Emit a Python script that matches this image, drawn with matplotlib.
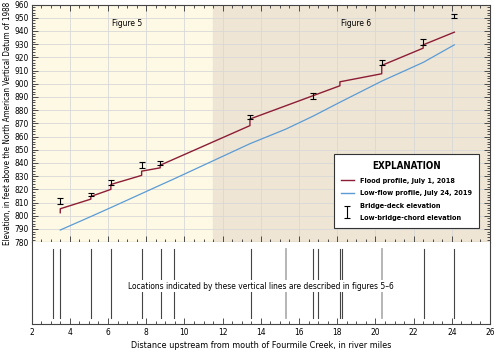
import matplotlib
matplotlib.use("Agg")
import matplotlib.pyplot as plt
from matplotlib.ticker import MultipleLocator
from matplotlib.lines import Line2D

plt.rcParams['font.family'] = ['DejaVu Sans']
plt.rcParams['font.stretch'] = 'condensed'

# flood profile, July 1, 2018 (river mile, elevation)
flood_mile = [3.5, 3.5, 5.1, 5.1, 6.15, 6.15, 7.76, 7.76, 8.73, 8.73, 13.43, 13.43,
              18.14, 18.14, 20.33, 20.33, 22.5, 22.5, 24.13]
flood_elev = [802.3, 805.3, 812.6, 814.6, 820.0, 823.7, 830.6, 833.8, 836.3, 838.3, 868.3, 873.3,
              898.5, 901.5, 907.6, 913.9, 927.0, 929.5, 939.1]

# low-flow profile, July 24, 2019
low_mile = [3.5, 5.1, 6.15, 7.76, 8.73, 9.45, 13.43, 15.3, 16.71, 18.14, 20.33, 22.5, 24.13]
low_elev = [789.2, 799.4, 806.2, 816.8, 823.2, 827.9, 854.6, 865.6, 875.3, 886.0, 902.0, 916.2, 929.5]

# bridges: deck (top) and low chord (bottom)
bridge_mile = [3.5, 5.1, 6.15, 7.76, 8.73, 13.43, 16.71, 20.33, 22.5, 24.13]
bridge_deck = [813.6, 817.4, 826.9, 840.6, 841.6, 876.6, 893.0, 918.2, 933.9, 953.0]
bridge_chord = [808.6, 814.9, 823.2, 836.0, 838.3, 873.6, 888.7, 913.9, 929.5, 950.2]

# location lines in lower panel
loc_mile = [3.13, 3.5, 5.12, 6.17, 7.76, 8.75, 9.45, 13.47, 15.3, 16.74, 17.0, 18.16, 18.25,
            20.34, 22.55, 24.13]
loc_grey = [15.3, 20.34]

fig = plt.figure(figsize=(4.94, 3.53), dpi=100)
ax = fig.add_axes([0.064, 0.314, 0.928, 0.673])
ax2 = fig.add_axes([0.064, 0.082, 0.928, 0.232])

ax.axvspan(2, 11.48, color='#fdf9e5', zorder=0)
ax.axvspan(11.48, 26, color='#efe5d4', zorder=0)
ax.set_xlim(2, 26)
ax.set_ylim(780, 960)
ax.xaxis.set_major_locator(MultipleLocator(2))
ax.xaxis.set_minor_locator(MultipleLocator(0.5))
ax.yaxis.set_major_locator(MultipleLocator(10))
ax.yaxis.set_minor_locator(MultipleLocator(2))
ax.grid(True, which='major', color='#d8d8d8', lw=0.6, zorder=1)
ax.tick_params(which='both', direction='in', top=True, right=True, bottom=True, left=True,
               labelbottom=False, labelsize=6, width=0.6, color='#333333', pad=2)
ax.tick_params(which='major', length=4)
ax.tick_params(which='minor', length=2)
for s in ax.spines.values():
    s.set_linewidth(0.8)
    s.set_color('#444444')

ax.plot(flood_mile, flood_elev, color='#8c1d35', lw=1.0, zorder=3)
ax.plot(low_mile, low_elev, color='#5b9bd5', lw=0.9, zorder=3)
mid = [(a + b) / 2 for a, b in zip(bridge_deck, bridge_chord)]
half = [(a - b) / 2 for a, b in zip(bridge_deck, bridge_chord)]
ax.errorbar(bridge_mile, mid, yerr=half, fmt='none', ecolor='black', elinewidth=0.8,
            capsize=2.5, capthick=0.8, zorder=4)

ax.text(7.0, 945.5, 'Figure 5', fontsize=6, ha='center', va='center')
ax.text(18.97, 945.5, 'Figure 6', fontsize=6, ha='center', va='center')
ax.set_ylabel('Elevation, in feet above the North American Vertical Datum of 1988',
              fontsize=5.75, labelpad=2)

handles = [Line2D([], [], color='#8c1d35', lw=1.0),
           Line2D([], [], color='#5b9bd5', lw=1.0),
           Line2D([], [], color='none'),
           Line2D([], [], color='none')]
labels = ['Flood profile, July 1, 2018', 'Low-flow profile, July 24, 2019',
          'Bridge-deck elevation', 'Low-bridge-chord elevation']
leg = ax.legend(handles, labels, loc='lower right', bbox_to_anchor=(0.976, 0.059),
                title='EXPLANATION', fontsize=5.2, title_fontsize=7, frameon=True,
                fancybox=False, edgecolor='#333333', framealpha=1, handlelength=1.8,
                borderpad=0.95, labelspacing=0.9, handletextpad=0.9, borderaxespad=0)
leg.get_frame().set_linewidth(0.8)
for t in leg.get_texts():
    t.set_fontweight('bold')
leg.get_title().set_fontweight('bold')
leg.set_zorder(10)
fig.canvas.draw()
# draw I-symbol next to last two legend entries
bb = [t.get_window_extent() for t in leg.get_texts()]
inv = ax.transAxes.inverted()
y_top = inv.transform((0, (bb[2].y0 + bb[2].y1) / 2))[1]
y_bot = inv.transform((0, (bb[3].y0 + bb[3].y1) / 2))[1]
hx = inv.transform((bb[0].x0 - 13, 0))[0]
ax.errorbar([hx], [(y_top + y_bot) / 2], yerr=[(y_top - y_bot) / 2], fmt='none',
            ecolor='black', elinewidth=0.8, capsize=2.5, capthick=0.8,
            transform=ax.transAxes, zorder=11, clip_on=False)

ax2.set_xlim(2, 26)
ax2.set_ylim(0, 1)
ax2.xaxis.set_major_locator(MultipleLocator(2))
ax2.xaxis.set_minor_locator(MultipleLocator(0.5))
ax2.set_yticks([])
ax2.tick_params(which='both', direction='in', top=False, labelsize=6, width=0.6,
                color='#333333', pad=3)
ax2.tick_params(which='major', length=4)
ax2.tick_params(which='minor', length=2)
for s in ax2.spines.values():
    s.set_linewidth(0.8)
    s.set_color('#444444')
ax2.spines['top'].set_visible(False)
for m in loc_mile:
    c = '#b0b0b0' if m in loc_grey else '#444444'
    w = 1.3 if m in loc_grey else 0.8
    ax2.plot([m, m], [0.07, 0.92], color=c, lw=w, zorder=1)
ax2.text(14.0, 0.46, 'Locations indicated by these vertical lines are described in figures 5\u20136',
         fontsize=6, ha='center', va='center', zorder=3,
         bbox=dict(facecolor='white', edgecolor='none', pad=1))
ax2.set_xlabel('Distance upstream from mouth of Fourmile Creek, in river miles',
               fontsize=6.5, labelpad=3)

fig.savefig('out.png', dpi=100)
